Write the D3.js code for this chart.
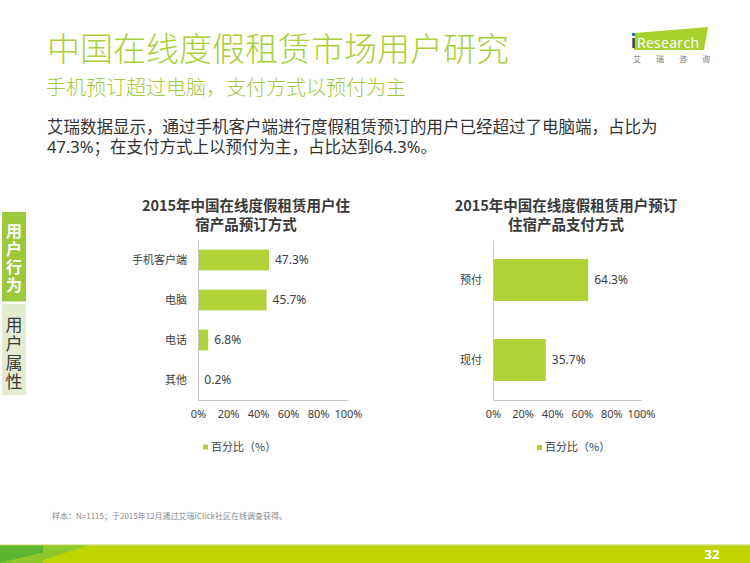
<!DOCTYPE html>
<html><head><meta charset="utf-8">
<script src="https://cdn.jsdelivr.net/npm/d3@7"></script>
<style>
html,body{margin:0;padding:0;background:#fff;}
svg{display:block;font-family:"Noto Sans","Noto Sans CJK SC",sans-serif;}
</style></head>
<body>
<svg id="c" width="750" height="563"></svg>
<script>
// ---- data ----
const pageTitle = "中国在线度假租赁市场用户研究";
const pageSubtitle = "手机预订超过电脑，支付方式以预付为主";
const bodyLines = ["艾瑞数据显示，通过手机客户端进行度假租赁预订的用户已经超过了电脑端，占比为", "47.3%；在支付方式上以预付为主，占比达到64.3%。"];
const chart1Title = ["2015年中国在线度假租赁用户住", "宿产品预订方式"];
const chart1Cats = ["手机客户端", "电脑", "电话", "其他"];
const chart1Vals = [47.3, 45.7, 6.8, 0.2];
const chart2Title = ["2015年中国在线度假租赁用户预订", "住宿产品支付方式"];
const chart2Cats = ["预付", "现付"];
const chart2Vals = [64.3, 35.7];
const xTicks = [0, 20, 40, 60, 80, 100];
const legendLabel = "百分比（%）";
const sideTabs = ["用户行为", "用户属性"];
const noteText = "样本：N=1115；于2015年12月通过艾瑞iClick社区在线调查获得。";
const pageNum = "32";

const svg = d3.select("#c");
const CJK = '"Noto Sans CJK SC",sans-serif';
const BAR = "#b1d236";

// ---- header ----
svg.append("text").attr("x", 47).attr("y", 61).attr("font-family", CJK).attr("font-weight", 300)
  .attr("font-size", 33).attr("fill", "#a9cf3a").text(pageTitle);
svg.append("text").attr("x", 46).attr("y", 95).attr("font-family", CJK).attr("font-weight", 300)
  .attr("font-size", 20).attr("fill", "#9fca3c").text(pageSubtitle);
const body = svg.append("text").attr("font-family", '"Noto Sans","Noto Sans CJK SC",sans-serif')
  .attr("font-size", 16.5).attr("fill", "#333");
bodyLines.forEach((t, i) => {
  body.append("tspan").attr("x", 47).attr("y", 133 + i * 19.5).text(t);
});

// ---- logo ----
const logo = svg.append("g");
logo.append("polygon").attr("points", "635,33 708,27 704,50 634,50").attr("fill", "#a8d12e");
logo.append("circle").attr("cx", 633.5).attr("cy", 34.5).attr("r", 1.8).attr("fill", "#1f6fb5");
logo.append("rect").attr("x", 632.3).attr("y", 38).attr("width", 2.6).attr("height", 10).attr("fill", "#444");
logo.append("text").attr("x", 637).attr("y", 47.5).attr("font-family", '"Open Sans",sans-serif').attr("font-size", 14)
  .attr("fill", "#fff").attr("textLength", 62).text("Research");
logo.append("text").attr("x", 633).attr("y", 62).attr("font-family", CJK).attr("font-size", 8)
  .attr("fill", "#777").attr("letter-spacing", 15).text("艾瑞咨询");

// ---- side tabs ----
svg.append("rect").attr("x", 2).attr("y", 212).attr("width", 24).attr("height", 89.5).attr("fill", "#9cc83c");
svg.append("rect").attr("x", 2).attr("y", 304).attr("width", 24).attr("height", 91).attr("fill", "#e3ebd2");
svg.append("text").attr("x", 14).attr("y", 223).attr("writing-mode", "tb").attr("letter-spacing", 2)
  .attr("font-family", CJK).attr("font-weight", 700).attr("font-size", 16).attr("fill", "#fff").text(sideTabs[0]);
svg.append("text").attr("x", 14).attr("y", 316).attr("writing-mode", "tb").attr("letter-spacing", 2)
  .attr("font-family", CJK).attr("font-size", 17).attr("fill", "#3a3a3a").text(sideTabs[1]);

// ---- charts ----
function barChart(cfg) {
  const g = svg.append("g");
  const x = d3.scaleLinear().domain([0, 100]).range([cfg.x0, cfg.x1]);
  const y = d3.scaleBand().domain(cfg.cats).range([240, 400]).paddingInner(cfg.pad).paddingOuter(cfg.pad / 2);

  const title = g.append("text").attr("text-anchor", "middle").attr("font-family", CJK)
    .attr("font-weight", 700).attr("font-size", 14.5).attr("fill", "#3a3a3a");
  cfg.title.forEach((t, i) => {
    title.append("tspan").attr("x", cfg.tx).attr("y", 211 + i * 18.5).text(t);
  });

  g.selectAll(".bar").data(cfg.vals).join("rect").attr("class", "bar")
    .attr("x", x(0)).attr("y", (d, i) => y(cfg.cats[i]))
    .attr("width", d => x(d) - x(0)).attr("height", y.bandwidth()).attr("fill", BAR);

  g.selectAll(".val").data(cfg.vals).join("text").attr("class", "val")
    .attr("x", d => x(d) + 6).attr("y", (d, i) => y(cfg.cats[i]) + y.bandwidth() / 2)
    .attr("dy", "0.35em").attr("font-size", 12).attr("fill", "#404040").text(d => d.toFixed(1) + "%");

  const xa = g.append("g").attr("transform", "translate(0,400)")
    .call(d3.axisBottom(x).tickValues(xTicks).tickSize(0).tickPadding(10.5).tickFormat(d => d + "%"));
  xa.select(".domain").attr("stroke", "#c8c8c8").attr("stroke-width", 1);
  xa.selectAll("text").attr("font-size", 11).attr("fill", "#404040").attr("font-family", '"Noto Sans",sans-serif');

  const ya = g.append("g").attr("transform", `translate(${cfg.x0},0)`)
    .call(d3.axisLeft(y).tickSize(0).tickPadding(11));
  ya.select(".domain").attr("stroke", "#c8c8c8").attr("stroke-width", 1);
  ya.selectAll("text").attr("font-size", 11).attr("fill", "#404040").attr("font-family", CJK);

  g.append("rect").attr("x", cfg.lx).attr("y", cfg.ly - 2.5).attr("width", 5).attr("height", 5).attr("fill", BAR);
  g.append("text").attr("x", cfg.lx + 8).attr("y", cfg.ly).attr("dy", "0.35em").attr("font-family", CJK)
    .attr("font-size", 11).attr("fill", "#404040").text(legendLabel);
}

barChart({cats: chart1Cats, vals: chart1Vals, title: chart1Title, x0: 198, x1: 348, pad: 0.48, tx: 246, lx: 203, ly: 447});
barChart({cats: chart2Cats, vals: chart2Vals, title: chart2Title, x0: 493, x1: 641, pad: 0.475, tx: 566, lx: 537, ly: 447.5});

// ---- footer ----
svg.append("text").attr("x", 52).attr("y", 519).attr("font-family", CJK).attr("font-size", 8)
  .attr("fill", "#8a8a8a").text(noteText);
svg.append("rect").attr("x", 0).attr("y", 544).attr("width", 750).attr("height", 19).attr("fill", "#bdd400");
svg.append("rect").attr("x", 0).attr("y", 544).attr("width", 750).attr("height", 1.5).attr("fill", "#dde8a8");
svg.append("polygon").attr("points", "43,545.5 88,545.5 43,560").attr("fill", "#8fc82a");
svg.append("polygon").attr("points", "0,545.5 43,545.5 43,553 0,563").attr("fill", "#5db531");
svg.append("polygon").attr("points", "0,563 43,553 43,563").attr("fill", "#8fc82a");
svg.append("text").attr("x", 712).attr("y", 554).attr("dy", "0.36em").attr("text-anchor", "middle")
  .attr("font-family", '"Noto Sans",sans-serif').attr("font-weight", 700).attr("font-size", 13).attr("fill", "#fff").text(pageNum);
</script>
</body></html>
